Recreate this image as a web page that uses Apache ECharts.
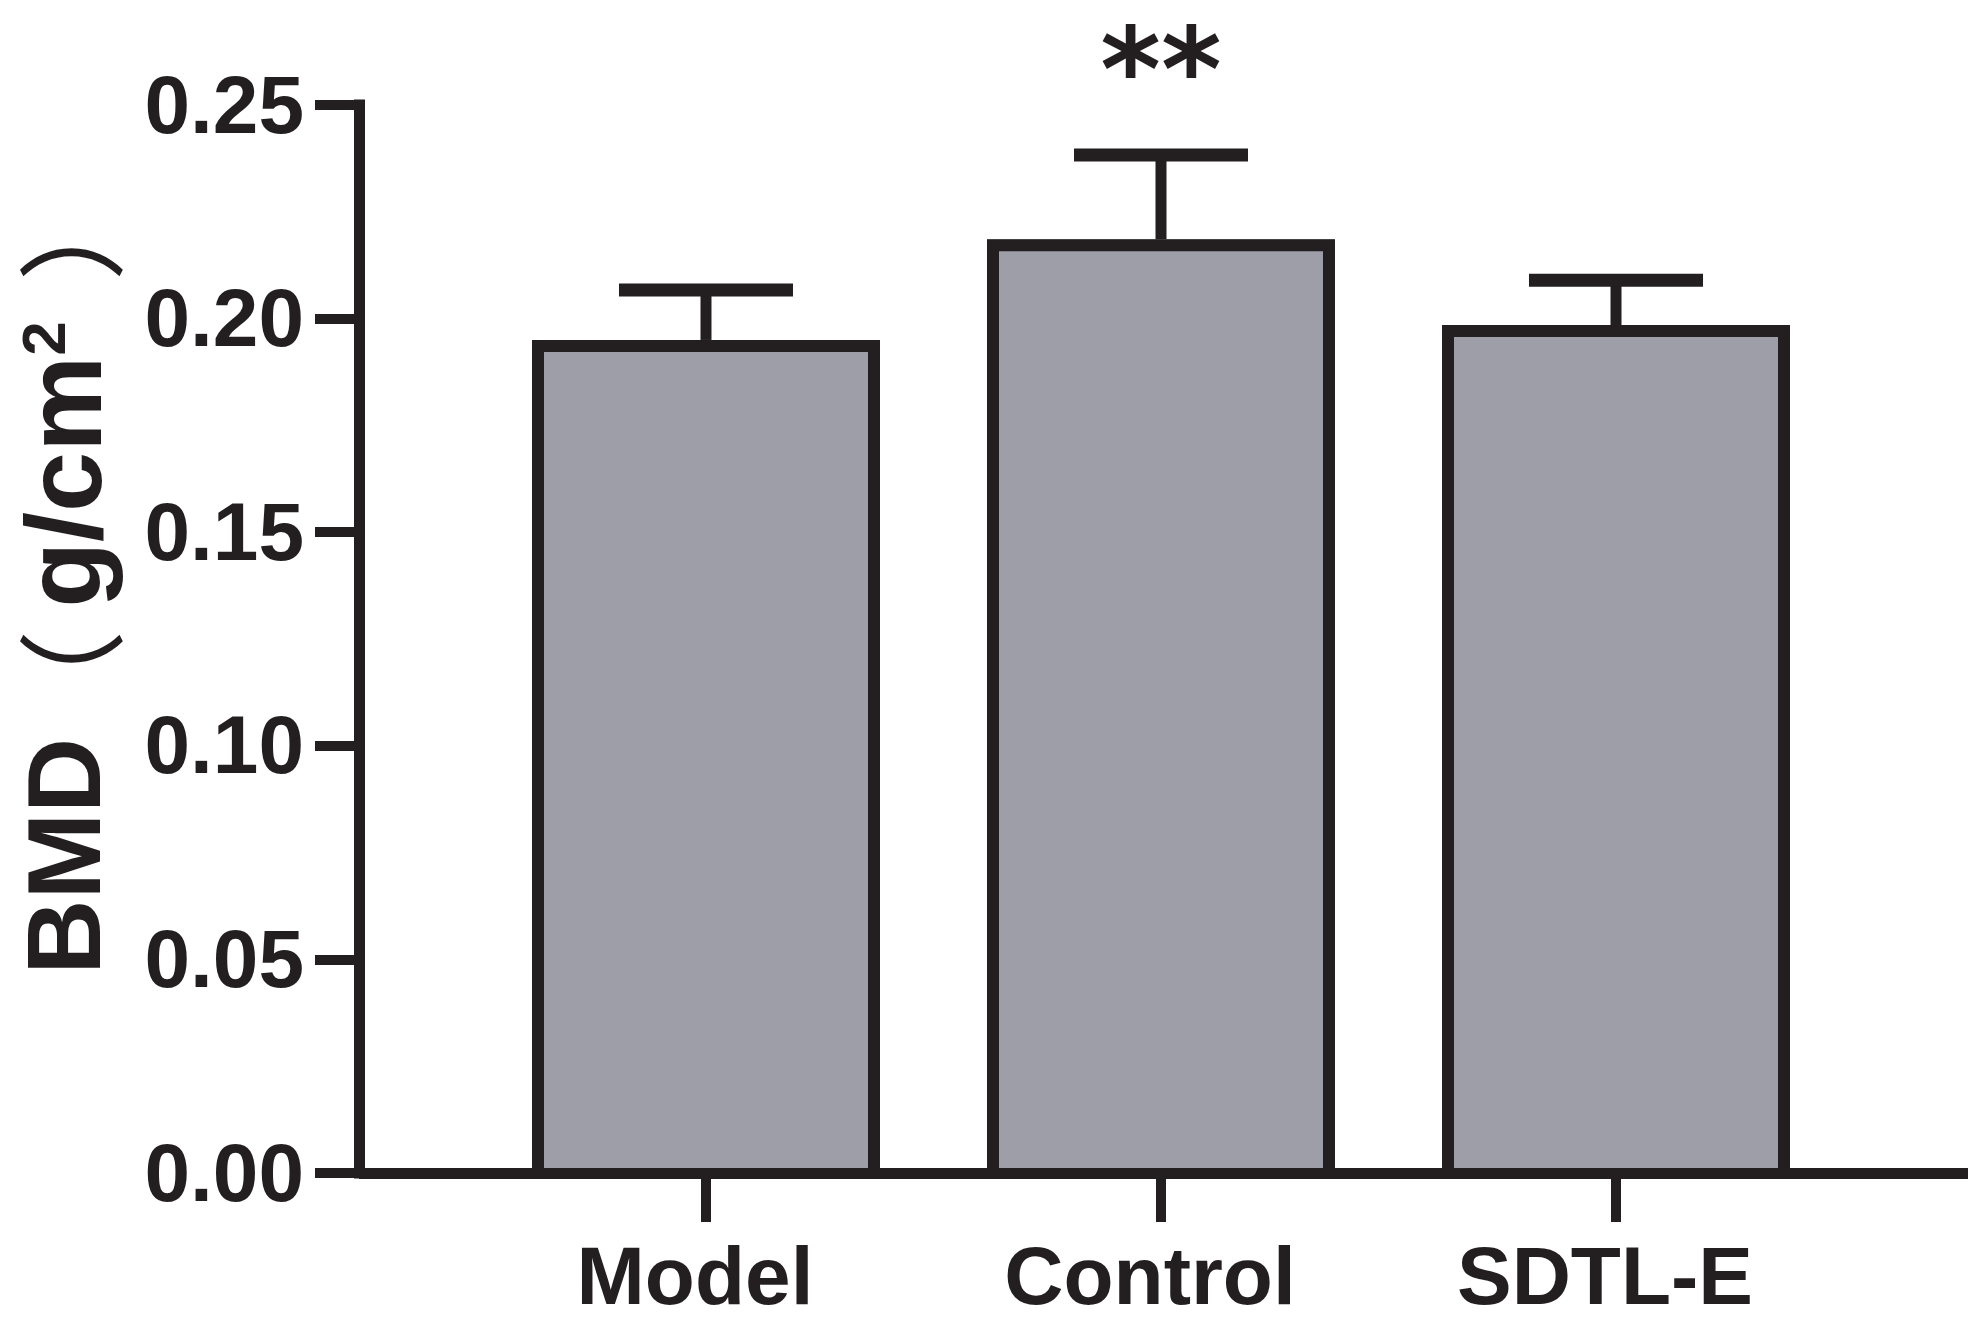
<!DOCTYPE html>
<html>
<head>
<meta charset="utf-8">
<title>BMD</title>
<script src="https://cdn.jsdelivr.net/npm/echarts@6/dist/echarts.min.js"></script>
<style>
    html, body { margin: 0; padding: 0; background: #fff; }
    #main { width: 1982px; height: 1325px; }
</style>
</head>
<body>
<div id="main"></div>
<script>
var categories = ['Model', 'Control', 'SDTL-E'];
var positions = [1, 2, 3];
var means = [0.195, 0.2186, 0.1985];
var errorTops = [0.2067, 0.2383, 0.2090];
var sigMarks = ['', '**', ''];

var ink = '#231f20';
var chart = echarts.init(document.getElementById('main'));

var barData = [], errorData = [];
for (var i = 0; i < categories.length; i++) {
    barData.push([positions[i], means[i]]);
    errorData.push([positions[i], means[i], errorTops[i], i]);
}

var option = {
    backgroundColor: '#ffffff',
    animation: false,
    grid: { left: 359, right: 14, top: 105, bottom: 152, outerBoundsMode: 'none' },
    xAxis: {
        type: 'value',
        z: 6,
        min: 0.2374,
        max: 3.7736,
        splitLine: { show: false },
        axisLine: { lineStyle: { color: ink, width: 11, cap: 'butt' } },
        axisTick: { length: 49, customValues: positions, lineStyle: { color: ink, width: 10 } },
        axisLabel: {
            customValues: positions,
            margin: 67,
            padding: [0, 22, 0, 0],
            color: ink,
            fontFamily: 'Liberation Sans',
            fontWeight: 'bold',
            fontSize: 82,
            formatter: function (v) { return categories[v - 1]; }
        }
    },
    yAxis: {
        type: 'value',
        min: 0,
        max: 0.25,
        interval: 0.05,
        splitLine: { show: false },
        axisLine: { show: true, lineStyle: { color: ink, width: 11, cap: 'square' } },
        axisTick: { show: true, length: 44, lineStyle: { color: ink, width: 10 } },
        axisLabel: {
            margin: 55,
            verticalAlign: 'top',
            lineHeight: 10,
            color: ink,
            fontFamily: 'Liberation Sans',
            fontWeight: 'bold',
            fontSize: 82,
            formatter: function (v) { return v.toFixed(2); }
        },
        name: '{b|BMD}{p|（}{c|g/cm}{s|2}{q|）}',
        nameLocation: 'middle',
        nameGap: 234,
        nameTextStyle: {
            padding: [0, 0, 0, 130],
            rich: {
                b: { fontFamily: 'Liberation Sans', fontWeight: 'bold', fontSize: 104, color: ink },
                c: { fontFamily: 'Liberation Sans', fontWeight: 'bold', fontSize: 108, color: ink, padding: [0, 0, 0, 22] },
                p: { fontFamily: 'Noto Sans CJK SC', fontSize: 108, color: ink },
                q: { fontFamily: 'Noto Sans CJK SC', fontSize: 108, color: ink, padding: [0, 0, 0, 40] },
                s: { fontFamily: 'Liberation Sans', fontWeight: 'bold', fontSize: 62, color: ink, verticalAlign: 'top', padding: [0, 0, 34, 0] }
            }
        }
    },
    series: [{
        name: 'BMD',
        type: 'bar',
        barWidth: 348,
        data: barData,
        z: 3,
        itemStyle: { color: '#9d9ea8' }
    }, {
        name: 'SD',
        type: 'custom',
        data: errorData,
        z: 4,
        encode: { x: 0, y: [1, 2] },
        renderItem: function (params, api) {
            var x = api.value(0);
            var base = api.coord([x, api.value(1)]);
            var top = api.coord([x, api.value(2)]);
            var floor = api.coord([x, 0]);
            var half = 168, edge = 6;
            var children = [
                // open-bottomed outline, the x axis closes the bar
                { type: 'polyline', shape: { points: [
                    [base[0] - half, floor[1]], [base[0] - half, base[1] + edge],
                    [base[0] + half, base[1] + edge], [base[0] + half, floor[1]]
                ] }, style: { stroke: ink, lineWidth: 12, fill: null, lineJoin: 'miter' } },
                { type: 'line', shape: { x1: base[0], y1: base[1], x2: top[0], y2: top[1] }, style: { stroke: ink, lineWidth: 11, fill: null } },
                { type: 'line', shape: { x1: top[0] - 87, y1: top[1], x2: top[0] + 87, y2: top[1] }, style: { stroke: ink, lineWidth: 13, fill: null } }
            ];
            var mark = sigMarks[api.value(3)];
            if (mark) {
                children.push({
                    type: 'text',
                    style: {
                        x: top[0], y: top[1] - 75,
                        text: mark,
                        align: 'center', verticalAlign: 'middle',
                        fill: ink,
                        font: 'bold 116px "DejaVu Sans"'
                    }
                });
            }
            return { type: 'group', children: children };
        }
    }]
};

chart.setOption(option);
</script>
</body>
</html>
